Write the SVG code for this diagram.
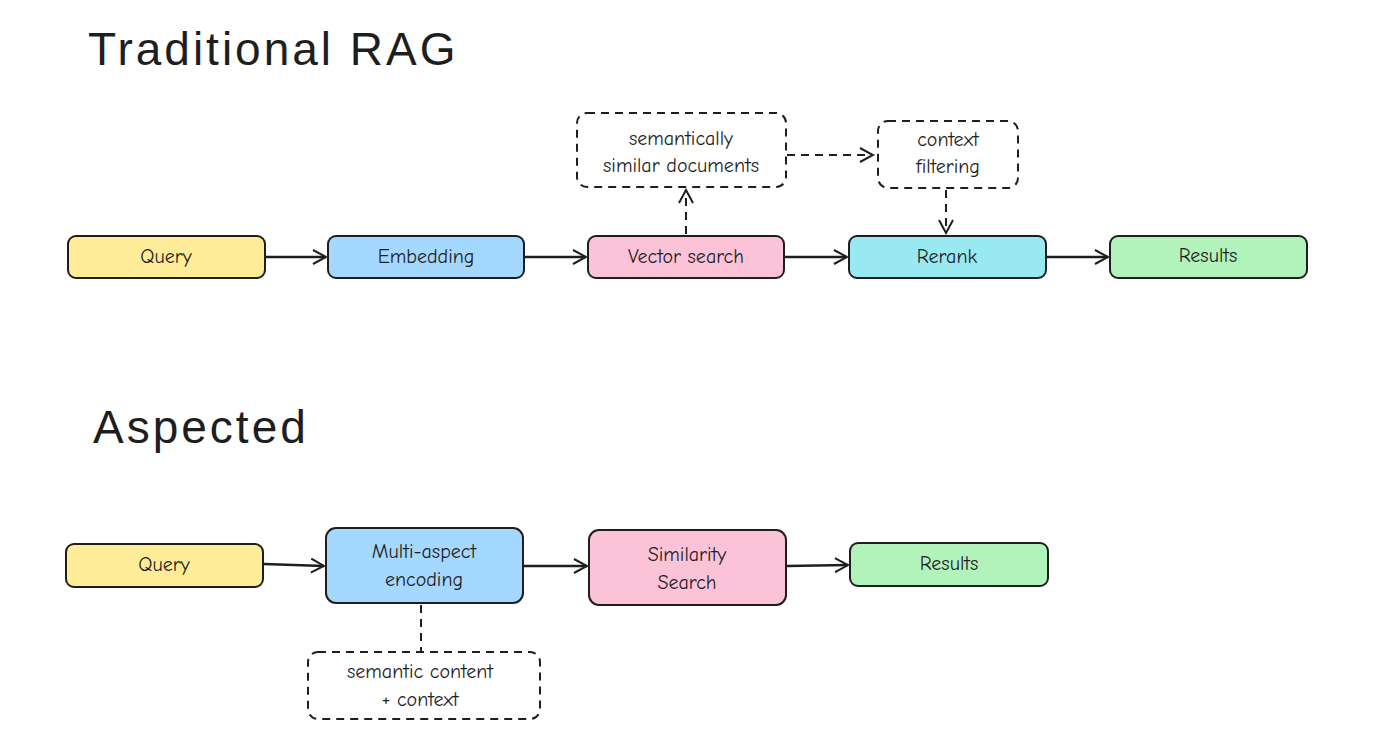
<svg xmlns="http://www.w3.org/2000/svg" width="1373" height="741" viewBox="0 0 1373 741">
<defs>
<marker id="ah" markerWidth="16" markerHeight="16" refX="14" refY="8" orient="auto" markerUnits="userSpaceOnUse"><path d="M1,1 L14,8 L1,15" fill="none" stroke="#1e1e1e" stroke-width="2"/></marker>
<style>
.n{stroke:#1e1e1e;stroke-width:2}
.d{fill:none;stroke:#1e1e1e;stroke-width:2;stroke-dasharray:8 6}
.t{font-family:"Comic Neue","Liberation Sans",sans-serif;font-size:20px;fill:#1e1e1e;text-anchor:middle}
.h{font-family:"Liberation Sans",sans-serif;font-size:46px;fill:#1e1e1e;letter-spacing:3px}
.c{fill:none;stroke:#1e1e1e;stroke-width:2.5}
</style>
</defs>
<rect width="1373" height="741" fill="#fff"/>
<text class="h" x="88" y="65">Traditional RAG</text>
<text class="h" x="93" y="443">Aspected</text>
<g id="q1"><rect class="n" x="68" y="236" width="197" height="42" rx="8" fill="#ffec99"/><text class="t" x="166" y="263">Query</text></g>
<g id="emb"><rect class="n" x="328" y="236" width="196" height="42" rx="8" fill="#a5d8ff"/><text class="t" x="426" y="263">Embedding</text></g>
<g id="vs"><rect class="n" x="588" y="236" width="196" height="42" rx="8" fill="#fcc2d7"/><text class="t" x="686" y="263">Vector search</text></g>
<g id="rr"><rect class="n" x="849" y="236" width="197" height="42" rx="8" fill="#99e9f2"/><text class="t" x="947" y="263">Rerank</text></g>
<g id="r1"><rect class="n" x="1110" y="236" width="197" height="42" rx="8" fill="#b2f2bb"/><text class="t" x="1208" y="262">Results</text></g>
<g id="ssd"><rect class="d" x="577" y="113" width="209" height="74" rx="10"/><text class="t" x="681" y="145">semantically</text><text class="t" x="681" y="172">similar documents</text></g>
<g id="cf"><rect class="d" x="878" y="121" width="140" height="67" rx="10"/><text class="t" x="948" y="146">context</text><text class="t" x="948" y="173">filtering</text></g>
<g id="q2"><rect class="n" x="66" y="544" width="197" height="43" rx="8" fill="#ffec99"/><text class="t" x="164" y="571">Query</text></g>
<g id="mae"><rect class="n" x="326" y="528" width="197" height="75" rx="10" fill="#a5d8ff"/><text class="t" x="424" y="558">Multi-aspect</text><text class="t" x="424" y="586">encoding</text></g>
<g id="ss"><rect class="n" x="589" y="530" width="197" height="75" rx="10" fill="#fcc2d7"/><text class="t" x="687" y="561">Similarity</text><text class="t" x="687" y="589">Search</text></g>
<g id="r2"><rect class="n" x="850" y="543" width="198" height="43" rx="8" fill="#b2f2bb"/><text class="t" x="949" y="570">Results</text></g>
<g id="scc"><rect class="d" x="308" y="652" width="232" height="67" rx="10"/><text class="t" x="420" y="678">semantic content</text><text class="t" x="420" y="706">+ context</text></g>
<g id="connectors">
<line class="c" x1="266" y1="257" x2="326" y2="257" marker-end="url(#ah)"/>
<line class="c" x1="525" y1="257" x2="586" y2="257" marker-end="url(#ah)"/>
<line class="c" x1="785" y1="257" x2="847" y2="257" marker-end="url(#ah)"/>
<line class="c" x1="1047" y1="257" x2="1108" y2="257" marker-end="url(#ah)"/>
<line class="d" x1="686" y1="234" x2="686" y2="190" marker-end="url(#ah)"/>
<line class="d" x1="787" y1="155" x2="873" y2="155" marker-end="url(#ah)"/>
<line class="d" x1="946" y1="190" x2="946" y2="233" marker-end="url(#ah)"/>
<line class="c" x1="264" y1="564" x2="324" y2="566" marker-end="url(#ah)"/>
<line class="c" x1="524" y1="566" x2="587" y2="566" marker-end="url(#ah)"/>
<line class="c" x1="787" y1="566" x2="848" y2="565" marker-end="url(#ah)"/>
<line class="d" x1="421" y1="605" x2="421" y2="652"/>
</g>
</svg>
